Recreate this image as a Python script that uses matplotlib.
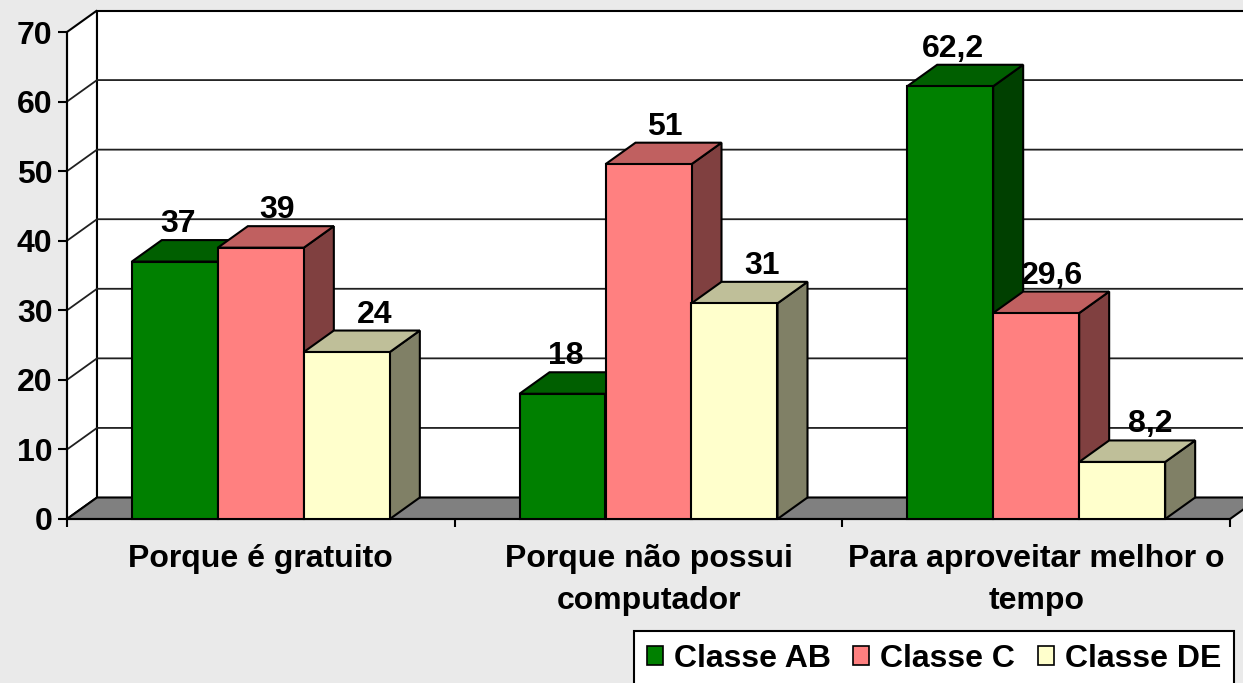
import matplotlib
matplotlib.use('Agg')
import matplotlib.pyplot as plt
from matplotlib.patches import Polygon, Rectangle, Patch

# ---- data ----
categories = ['Porque é gratuito', 'Porque não possui\ncomputador', 'Para aproveitar melhor o\ntempo']
series_names = ['Classe AB', 'Classe C', 'Classe DE']
classe_ab = [37, 18, 62.2]
classe_c = [39, 51, 29.6]
classe_de = [24, 31, 8.2]
y_ticks = [0, 10, 20, 30, 40, 50, 60, 70]

# ---- style ----
front_colors = ['#008000', '#FF8080', '#FFFFCC']
top_colors = ['#005F00', '#C06060', '#BFBF99']
side_colors = ['#004000', '#804040', '#808066']
label_dx_px = [3, 16, 28]
BG = '#EAEAEA'

plt.rcParams['font.family'] = ['Liberation Sans', 'DejaVu Sans']
plt.rcParams['font.weight'] = 'bold'
FS = 23

W, H = 1243, 683
fig = plt.figure(figsize=(W / 100, H / 100), dpi=100, facecolor=BG)
x_left, x_right, y_bot, y_top = 67, 1230, 519, 32
ax = fig.add_axes([x_left / W, (H - y_bot) / H, (x_right - x_left) / W, (y_bot - y_top) / H])
ax.set_xlim(0, 3)
ax.set_ylim(0, 70)
ax.patch.set_visible(False)

px_x = (x_right - x_left) / 3.0
px_y = (y_bot - y_top) / 70.0
DX = 30 / px_x
DY = 21.5 / px_y
ymax = 70

# walls
side_wall = Polygon([(0, 0), (DX, DY), (DX, ymax + DY), (0, ymax)], closed=True,
                    facecolor='white', edgecolor='black', lw=1.5, zorder=0.5, clip_on=False)
ax.add_patch(side_wall)
back_wall = Rectangle((DX, DY), 3.3, ymax, facecolor='white', edgecolor='black', lw=1.5,
                      zorder=0.5, clip_on=False)
ax.add_patch(back_wall)
for v in y_ticks[1:-1]:
    ax.plot([0, DX, 3.3], [v, v + DY, v + DY], color='#202020', lw=1.3, zorder=0.8,
            clip_on=False, solid_capstyle='butt')
floor = Polygon([(0, 0), (3, 0), (3 + DX, DY), (DX, DY)], closed=True,
                facecolor='#808080', edgecolor='black', lw=1.5, zorder=1, clip_on=False)
ax.add_patch(floor)

# bars
all_series = [classe_ab, classe_c, classe_de]
w = 86 / px_x
for j, vals in enumerate(all_series):
    xs = [i + 0.5 - 1.5 * w + j * w for i in range(len(categories))]
    for x0, v in zip(xs, vals):
        side = Polygon([(x0 + w, 0), (x0 + w + DX, DY), (x0 + w + DX, v + DY), (x0 + w, v)],
                       closed=True, facecolor=side_colors[j], edgecolor='black', lw=1.5,
                       zorder=3 + j, clip_on=False)
        ax.add_patch(side)
        top = Polygon([(x0, v), (x0 + w, v), (x0 + w + DX, v + DY), (x0 + DX, v + DY)],
                      closed=True, facecolor=top_colors[j], edgecolor='black', lw=1.5,
                      zorder=3 + j + 0.1, clip_on=False)
        ax.add_patch(top)
        lab = f"{v:g}".replace('.', ',')
        ax.text(x0 + w / 2 + label_dx_px[j] / px_x, v + DY + 8 / px_y, lab, ha='center',
                va='baseline', fontsize=FS, fontweight='bold', zorder=20, clip_on=False)
    ax.bar(xs, vals, width=w, align='edge', color=front_colors[j], edgecolor='black',
           lw=1.5, zorder=3 + j + 0.2, clip_on=False)

# axes
for s in ['top', 'right']:
    ax.spines[s].set_visible(False)
for s in ['left', 'bottom']:
    ax.spines[s].set_linewidth(1.5)
    ax.spines[s].set_zorder(2.5)
ax.set_yticks(y_ticks)
ax.set_yticklabels([str(t) for t in y_ticks])
ax.tick_params(axis='y', length=6.5, width=1.5, pad=4, labelsize=FS)
ax.set_xticks([0, 1, 2, 3])
ax.set_xticklabels(['', '', '', ''])
ax.tick_params(axis='x', which='major', length=5.5, width=1.5)
ax.set_xticks([0.5, 1.5, 2.5], minor=True)
ax.set_xticklabels(categories, minor=True, fontsize=FS, fontweight='bold', linespacing=1.5)
ax.tick_params(axis='x', which='minor', length=0, pad=18)

# legend
handles = [Patch(facecolor=c, edgecolor='black', lw=1.2) for c in front_colors]
leg = fig.legend(handles, series_names, loc='upper left', bbox_to_anchor=(634 / W, 1 - 631 / H),
                 ncol=3, frameon=True, fancybox=False, edgecolor='black', framealpha=1,
                 borderaxespad=0, handlelength=0.5, handleheight=0.5, handletextpad=0.35,
                 columnspacing=0.7, borderpad=0.4, prop={'size': FS, 'weight': 'bold'})
leg.get_frame().set_linewidth(1.5)

fig.savefig('out.png', dpi=100, facecolor=BG)
